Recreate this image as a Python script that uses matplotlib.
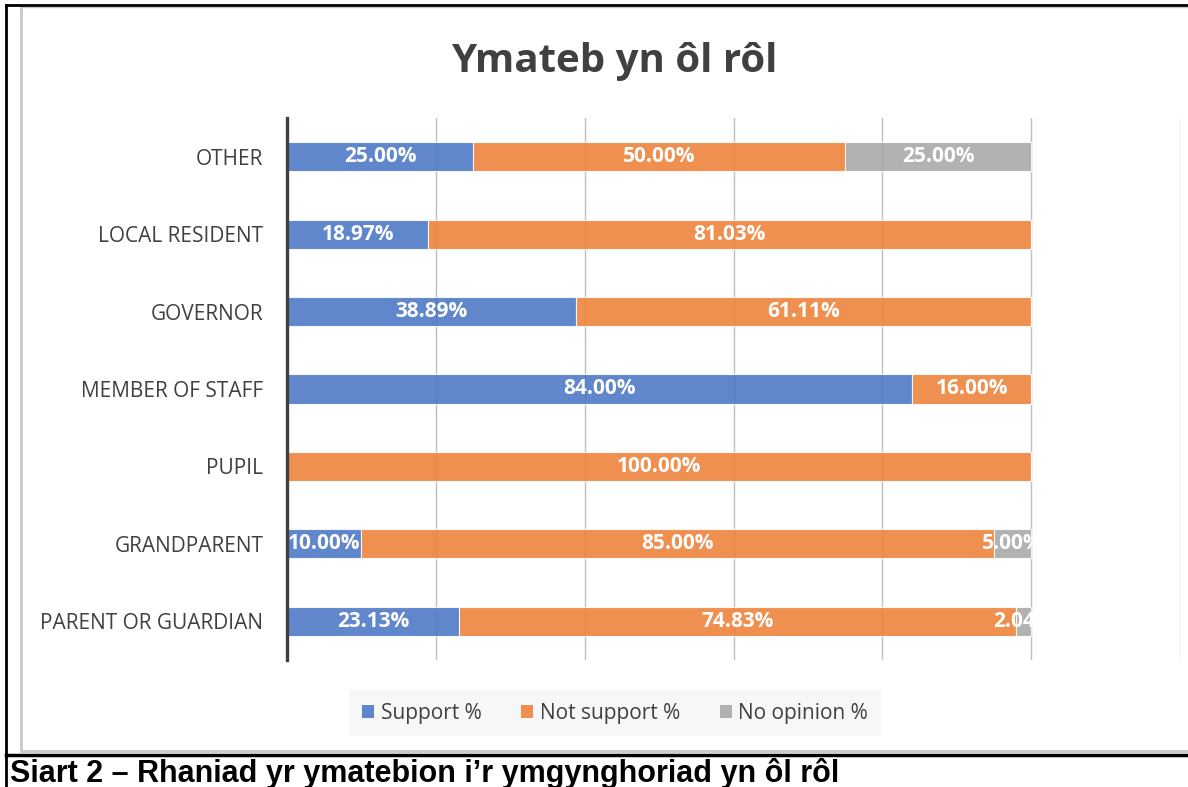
import matplotlib.pyplot as plt
from matplotlib.lines import Line2D
from matplotlib.patches import Rectangle, Patch

roles = ["PARENT OR GUARDIAN", "GRANDPARENT", "PUPIL", "MEMBER OF STAFF",
         "GOVERNOR", "LOCAL RESIDENT", "OTHER"]
support = [23.13, 10.00, 0.0, 84.00, 38.89, 18.97, 25.00]
not_support = [74.83, 85.00, 100.00, 16.00, 61.11, 81.03, 50.00]
no_opinion = [2.04, 5.00, 0.0, 0.0, 0.0, 0.0, 25.00]
series_names = ["Support %", "Not support %", "No opinion %"]
colors = ["#4472C4", "#ED7D31", "#A5A5A5"]

W, H = 1188, 787
plt.rcParams["font.family"] = ["Open Sans", "DejaVu Sans"]

fig = plt.figure(figsize=(W / 100, H / 100), dpi=100)


def fx(px):
    return px / W


def fy(py):
    return 1 - py / H


ax = fig.add_axes([fx(287), fy(660), fx(1180) - fx(287), fy(118) - fy(660)])

y = list(range(len(roles)))
left = [0.0] * len(roles)
for vals, name, c in zip([support, not_support, no_opinion], series_names, colors):
    ax.barh(y, vals, left=left, height=0.375, color=c, alpha=0.85,
            edgecolor="white", linewidth=0.8, label=name, zorder=2)
    for i, v in enumerate(vals):
        if v > 0:
            t = ax.text(left[i] + v / 2, y[i], f"{v:.2f}%", ha="center", va="center",
                        color="white", fontsize=15, fontweight="bold", zorder=3)
            # excel cuts the labels off at the end of the bar
            t.set_clip_path(Rectangle((0, -1), 100, 10, transform=ax.transData))
    left = [a + b for a, b in zip(left, vals)]

ax.set_xlim(0, 120)
ax.set_ylim(-0.5, len(roles) - 0.5)
ax.set_xticks(range(0, 121, 20))
ax.set_xticklabels([])
ax.tick_params(axis="x", length=0)
ax.tick_params(axis="y", length=0, labelsize=15, labelcolor="#404040", pad=17)
ax.set_yticks(y)
ax.set_yticklabels(roles)
ax.grid(axis="x", color="#BFBFBF", linewidth=1, zorder=0)
ax.set_axisbelow(True)
for s in ["top", "right", "bottom"]:
    ax.spines[s].set_visible(False)
ax.spines["left"].set_color("#404040")
ax.spines["left"].set_linewidth(2.4)
ax.spines["left"].set_zorder(4)

fig.text(fx(614), fy(72), "Ymateb yn ôl rôl", ha="center", va="baseline",
         fontsize=29, fontweight="bold", color="#404040")

handles = [Patch(facecolor=c, alpha=0.85, edgecolor="none") for c in colors]
leg = fig.legend(handles, series_names, loc="center", bbox_to_anchor=(fx(615), fy(713)),
                 ncol=3, frameon=True, fontsize=15, handlelength=0.6, handleheight=0.6,
                 handletextpad=0.3, columnspacing=1.9, borderpad=0.6, borderaxespad=0,
                 fancybox=False)
leg.get_frame().set_facecolor("#F5F5F5")
leg.get_frame().set_edgecolor("none")
for t in leg.get_texts():
    t.set_color("#404040")

# chart frame and page borders
fig.add_artist(Line2D([fx(21), fx(21)], [fy(7), fy(751)], color="#C8C8C8", lw=2))
fig.add_artist(Line2D([fx(21), 1], [fy(751), fy(751)], color="#C8C8C8", lw=2))
fig.add_artist(Line2D([fx(21), 1], [fy(7), fy(7)], color="#C8C8C8", lw=1))
fig.add_artist(Line2D([fx(6), 1], [fy(5), fy(5)], color="black", lw=2))
fig.add_artist(Line2D([fx(6), fx(6)], [fy(5), 0], color="black", lw=2))
fig.add_artist(Line2D([fx(6), 1], [fy(755), fy(755)], color="black", lw=2.5))

fig.text(fx(10), fy(782), "Siart 2 – Rhaniad yr ymatebion i’r ymgynghoriad yn ôl rôl",
         ha="left", va="baseline", fontsize=22, fontweight="bold", color="black",
         family=["Liberation Sans"])

fig.savefig("out.png", dpi=100)
